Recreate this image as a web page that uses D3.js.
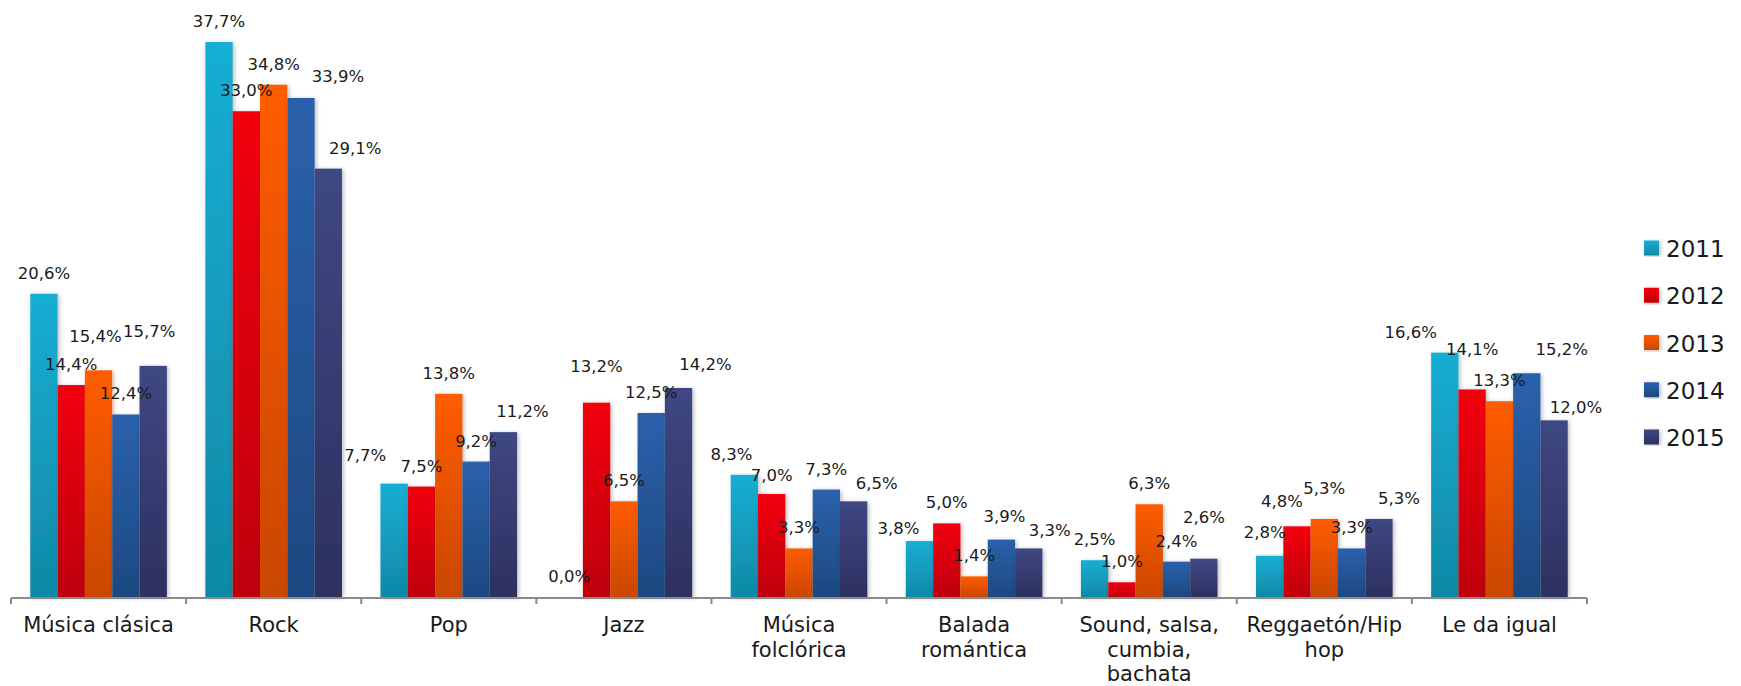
<!DOCTYPE html>
<html>
<head>
<meta charset="utf-8">
<script src="https://cdn.jsdelivr.net/npm/d3@7"></script>
<style>
  html, body { margin: 0; padding: 0; background: #ffffff; }
  svg { display: block; }
</style>
</head>
<body>
<svg id="chart" width="1741" height="686"></svg>
<script>
// ---------- DATA ----------
const categories = ["Música clásica", "Rock", "Pop", "Jazz", "Música folclórica",
  "Balada romántica", "Sound, salsa, cumbia, bachata", "Reggaetón/Hip hop", "Le da igual"];
const years = ["2011", "2012", "2013", "2014", "2015"];
const v2011 = [20.6, 37.7, 7.7, 0.0, 8.3, 3.8, 2.5, 2.8, 16.6];
const v2012 = [14.4, 33.0, 7.5, 13.2, 7.0, 5.0, 1.0, 4.8, 14.1];
const v2013 = [15.4, 34.8, 13.8, 6.5, 3.3, 1.4, 6.3, 5.3, 13.3];
const v2014 = [12.4, 33.9, 9.2, 12.5, 7.3, 3.9, 2.4, 3.3, 15.2];
const v2015 = [15.7, 29.1, 11.2, 14.2, 6.5, 3.3, 2.6, 5.3, 12.0];
const yDomain = [0, 40];

// ---------- STYLE / LAYOUT (not data) ----------
const colorsTop = ["#17AED4", "#F2000E", "#FF5C00", "#2B61AC", "#3F4782"];
const colorsBottom = ["#1089A5", "#BE000B", "#CA4700", "#1D4980", "#2D3160"];
// per-label nudges [dx, dy] (rows = years, cols = categories), mimicking manual label placement
const labelNudge = [
  [[0,0],[0,0],[-29,-8],[0,0],[-13,0],[-21,8],[0,0],[-5,-3],[-34,0]],
  [[0,0],[0,0],[0,0],[0,-16],[0,2],[0,0],[0,0],[-15,-4],[0,-19]],
  [[-3,-13],[0,0],[0,0],[0,0],[0,0],[0,0],[0,0],[0,-10],[0,0]],
  [[0,0],[37,-1],[0,0],[0,0],[0,0],[3,-3],[0,0],[0,0],[35,-3]],
  [[-4,-14],[27,0],[19,0],[27,-3],[23,3],[21,3],[0,-21],[20,0],[22,8]]
];

const series = [v2011, v2012, v2013, v2014, v2015];

const svg = d3.select("#chart");
const axisY = 597, left = 11, right = 1587;

const x = d3.scaleBand().domain(categories).range([left, right])
  .paddingInner(0.22).paddingOuter(0.11);
const xs = d3.scaleBand().domain(years).range([0, x.bandwidth()]);
const y = d3.scaleLinear().domain(yDomain).range([axisY, axisY - 40 * 14.72]);

// gradients + shadow
const defs = svg.append("defs");
years.forEach((yr, i) => {
  const g = defs.append("linearGradient").attr("id", "grad" + i)
    .attr("x1", 0).attr("y1", 0).attr("x2", 0).attr("y2", 1);
  g.append("stop").attr("offset", "0%").attr("stop-color", colorsTop[i]);
  g.append("stop").attr("offset", "100%").attr("stop-color", colorsBottom[i]);
});
const f = defs.append("filter").attr("id", "shadow")
  .attr("x", "-30%").attr("y", "-10%").attr("width", "160%").attr("height", "120%");
f.append("feDropShadow").attr("dx", 1.5).attr("dy", 1).attr("stdDeviation", 2)
  .attr("flood-color", "#000").attr("flood-opacity", 0.28);

// bars
const flat = [];
series.forEach((vals, si) => vals.forEach((v, ci) => flat.push({ si, ci, v })));

const barG = svg.append("g");
barG.selectAll("rect").data(flat.filter(d => d.v > 0)).join("rect")
  .attr("x", d => x(categories[d.ci]) + xs(years[d.si]))
  .attr("y", d => y(d.v))
  .attr("width", xs.bandwidth())
  .attr("height", d => y(0) - y(d.v))
  .attr("fill", d => "url(#grad" + d.si + ")")
  .attr("filter", "url(#shadow)");

// axis line and boundary ticks
const step = x.step();
const half = step * x.paddingInner() / 2;
const boundaries = categories.map(c => x(c) - half).concat([x(categories[categories.length - 1]) + x.bandwidth() + half]);
const axG = svg.append("g");
axG.append("line").attr("x1", left).attr("x2", right).attr("y1", axisY + 1).attr("y2", axisY + 1)
  .attr("stroke", "#8a8a8a").attr("stroke-width", 2.2);
axG.selectAll(".tk").data(boundaries).join("line")
  .attr("x1", d => d).attr("x2", d => d)
  .attr("y1", axisY + 1).attr("y2", axisY + 7)
  .attr("stroke", "#8a8a8a").attr("stroke-width", 2);

// category labels (wrapped)
const catG = svg.append("g")
  .attr("font-family", "'DejaVu Sans', sans-serif").attr("font-size", 21).attr("fill", "#1a1a1a");
categories.forEach(c => {
  const cx = x(c) + x.bandwidth() / 2;
  const t = catG.append("text").attr("text-anchor", "middle").attr("x", cx).attr("y", 632);
  const words = c.split(" ");
  let line = [];
  let ts = t.append("tspan").attr("x", cx).attr("dy", 0);
  words.forEach(w => {
    line.push(w);
    ts.text(line.join(" "));
    if (ts.node().getComputedTextLength() > 165 && line.length > 1) {
      line.pop();
      ts.text(line.join(" "));
      line = [w];
      ts = t.append("tspan").attr("x", cx).attr("dy", 24.5).text(w);
    }
  });
});

// data labels
const fmt = v => d3.format(".1f")(v).replace(".", ",") + "%";
svg.append("g")
  .attr("font-family", "'DejaVu Sans', sans-serif").attr("font-size", 16.5).attr("fill", "#1a1a1a")
  .selectAll("text").data(flat).join("text")
  .attr("text-anchor", "middle")
  .attr("x", d => x(categories[d.ci]) + xs(years[d.si]) + xs.bandwidth() / 2 + labelNudge[d.si][d.ci][0])
  .attr("y", d => y(d.v) - 15 + labelNudge[d.si][d.ci][1])
  .text(d => fmt(d.v));

// legend
const lg = svg.append("g").attr("font-family", "'DejaVu Sans', sans-serif").attr("font-size", 23).attr("fill", "#1a1a1a");
const legY = d3.scalePoint().domain(years).range([248, 437]);
years.forEach((yr, i) => {
  lg.append("rect").attr("x", 1644).attr("y", legY(yr) - 7.5).attr("width", 15).attr("height", 15)
    .attr("fill", "url(#grad" + i + ")").attr("filter", "url(#shadow)");
  lg.append("text").attr("x", 1666).attr("y", legY(yr) + 9).text(yr);
});
</script>
</body>
</html>
